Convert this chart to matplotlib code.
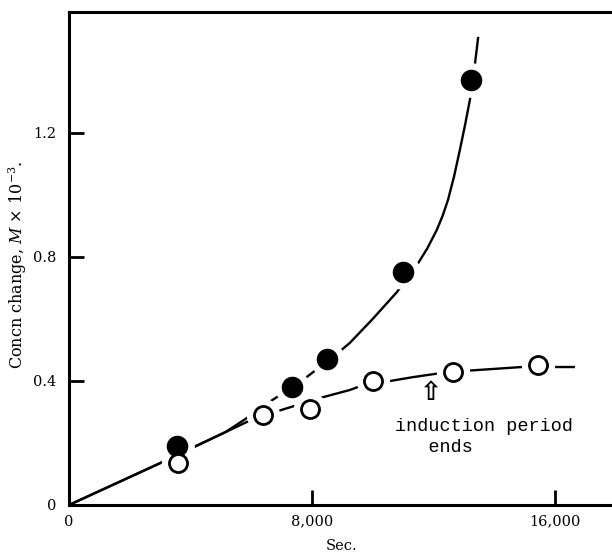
import numpy as np
import matplotlib
matplotlib.use("Agg")
import matplotlib.pyplot as plt

# measured points (time in s, concentration change in M x 10^-3)
filled_t = [3550, 7350, 8500, 11000, 13250]
filled_c = [0.19, 0.38, 0.47, 0.75, 1.37]
open_t = [3600, 6400, 7950, 10000, 12650, 15450]
open_c = [0.135, 0.29, 0.31, 0.40, 0.43, 0.45]

# hand-drawn curves through the points
upper_curve_t = [0, 3000, 4050, 5150, 5850, 6550, 7700, 8850, 9250, 10000,
                 10800, 11460, 11800, 12110, 12300, 12480, 12680, 12870,
                 13040, 13200, 13340, 13470]
upper_curve_c = [0, 0.135, 0.184, 0.235, 0.28, 0.329, 0.403, 0.490, 0.523,
                 0.60, 0.687, 0.774, 0.828, 0.887, 0.932, 0.984, 1.06,
                 1.145, 1.225, 1.306, 1.40, 1.506]
lower_curve_t = [0, 3000, 4050, 5150, 5860, 6780, 7540, 8260, 9250, 9580,
                 10400, 11300, 12280, 13100, 14910, 16620]
lower_curve_c = [0, 0.135, 0.184, 0.235, 0.268, 0.300, 0.323, 0.345, 0.371,
                 0.383, 0.397, 0.412, 0.426, 0.433, 0.445, 0.445]

x_ticks = [0, 8000, 16000]
x_ticklabels = ["0", "8,000", "16,000"]
y_ticks = [0, 0.4, 0.8, 1.2]
y_ticklabels = ["0", "0.4", "0.8", "1.2"]

plt.rcParams["font.family"] = "DejaVu Serif"
plt.rcParams["mathtext.fontset"] = "dejavuserif"

fig = plt.figure(figsize=(6.12, 5.59), dpi=100)
ax = fig.add_axes([69 / 612, 54 / 559, 543 / 612, 493 / 559])

ax.plot(upper_curve_t, upper_curve_c, color="black", lw=1.7, zorder=2)
ax.plot(lower_curve_t, lower_curve_c, color="black", lw=1.7, zorder=2)

# white halos leave a gap in the curve around each symbol
ax.plot(filled_t, filled_c, "o", ms=24, color="white", zorder=3)
ax.plot(open_t, open_c, "o", ms=23, color="white", zorder=3)
ax.plot(filled_t, filled_c, "o", ms=14.5, mfc="black", mec="black", zorder=4)
ax.plot(open_t, open_c, "o", ms=13, mfc="white", mec="black", mew=2, zorder=4)

ax.set_xlim(0, 17880)
ax.set_ylim(0, 1.59)
ax.spines["right"].set_visible(False)
for side in ["left", "top", "bottom"]:
    ax.spines[side].set_linewidth(2.2)

ax.set_xticks(x_ticks)
ax.set_xticklabels(x_ticklabels)
ax.set_yticks(y_ticks)
ax.set_yticklabels(y_ticklabels)
ax.tick_params(direction="in", length=11, width=2, labelsize=10.5)
ax.tick_params(axis="x", pad=7)
ax.tick_params(axis="y", pad=9)

ax.set_xlabel("Sec.", fontsize=10.5)
ax.xaxis.set_label_coords(273 / 543, -34 / 493)
ax.set_ylabel(r"Concn change, $M$ $\times$ 10$^{-3}$.", fontsize=11.5,
              va="center")
ax.yaxis.set_label_coords(-51 / 543, 240 / 493)

ax.text(11880, 0.36, "\u21e7", family="DejaVu Sans", fontsize=19,
        fontweight="bold", ha="center", va="center")
ax.text(10730, 0.22, "induction period\n   ends", family="Liberation Mono",
        fontsize=13.3, ha="left", va="center", linespacing=1.3)

fig.savefig("out.png", dpi=100)
